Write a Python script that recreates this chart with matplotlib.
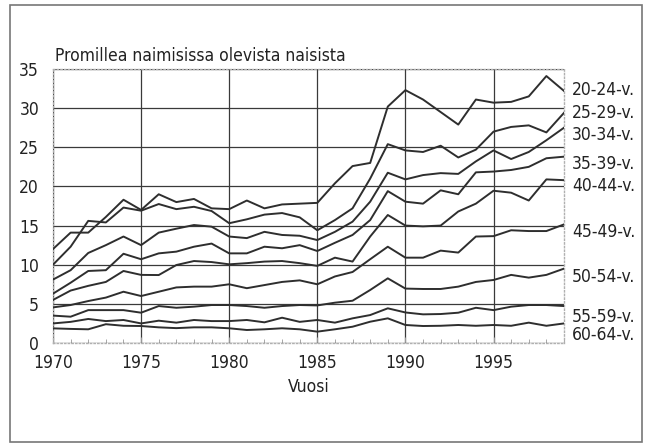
import matplotlib
matplotlib.use("Agg")
import matplotlib.pyplot as plt
from matplotlib.ticker import MultipleLocator
import matplotlib.transforms as mtransforms

plt.rcParams['font.family'] = ['DejaVu Sans']
plt.rcParams['font.stretch'] = 'condensed'

years = list(range(1970, 2000))

age_20_24 = [12.0, 14.1, 14.1, 16.1, 18.3, 17.0, 19.0, 18.0, 18.4, 17.2, 17.1,
             18.2, 17.2, 17.7, 17.8, 17.9, 20.4, 22.6, 23.0, 30.2, 32.3,
             31.1, 29.5, 27.9, 31.1, 30.7, 30.8, 31.5, 34.1, 32.2]
age_25_29 = [10.0, 12.3, 15.6, 15.4, 17.3, 16.9, 17.75, 17.1, 17.4, 16.86, 15.3,
             15.8, 16.4, 16.6, 16.05, 14.4, 15.7, 17.2, 21.0, 25.4, 24.6,
             24.4, 25.2, 23.7, 24.7, 27.0, 27.6, 27.8, 26.9, 29.4]
age_30_34 = [8.1, 9.3, 11.5, 12.5, 13.6, 12.5, 14.1, 14.6, 15.07, 14.86, 13.6,
             13.4, 14.2, 13.8, 13.7, 13.15, 14.2, 15.5, 18.05, 21.75, 20.9,
             21.45, 21.7, 21.6, 23.2, 24.6, 23.5, 24.4, 25.9, 27.5]
age_35_39 = [6.3, 7.7, 9.2, 9.3, 11.4, 10.7, 11.45, 11.67, 12.3, 12.7, 11.45,
             11.45, 12.3, 12.1, 12.5, 11.75, 12.8, 13.8, 15.7, 19.4, 18.05,
             17.8, 19.5, 19.0, 21.8, 21.9, 22.1, 22.5, 23.6, 23.8]
age_40_44 = [5.5, 6.7, 7.3, 7.8, 9.2, 8.7, 8.68, 9.96, 10.47, 10.34, 10.05,
             10.2, 10.4, 10.47, 10.2, 9.85, 10.9, 10.4, 13.6, 16.35, 15.0,
             14.9, 15.0, 16.8, 17.8, 19.45, 19.2, 18.2, 20.9, 20.8]
age_45_49 = [4.55, 4.85, 5.36, 5.8, 6.55, 6.0, 6.55, 7.1, 7.2, 7.2, 7.5,
             7.0, 7.4, 7.8, 8.0, 7.5, 8.5, 9.07, 10.7, 12.3, 10.9,
             10.9, 11.8, 11.55, 13.6, 13.65, 14.4, 14.3, 14.3, 15.15]
age_50_54 = [3.5, 3.36, 4.2, 4.2, 4.2, 3.87, 4.72, 4.5, 4.64, 4.85, 4.85,
             4.72, 4.5, 4.72, 4.85, 4.8, 5.15, 5.4, 6.77, 8.26, 6.95,
             6.9, 6.9, 7.2, 7.8, 8.05, 8.7, 8.35, 8.7, 9.5]
age_55_59 = [2.5, 2.7, 3.07, 2.8, 2.94, 2.5, 2.85, 2.6, 2.94, 2.8, 2.8,
             2.94, 2.64, 3.23, 2.7, 2.94, 2.6, 3.15, 3.57, 4.43, 3.9,
             3.66, 3.7, 3.87, 4.5, 4.2, 4.64, 4.85, 4.85, 4.72]
age_60_64 = [1.87, 1.8, 1.75, 2.4, 2.2, 2.17, 2.0, 1.9, 2.0, 2.0, 1.88,
             1.66, 1.75, 1.88, 1.75, 1.45, 1.75, 2.08, 2.72, 3.15, 2.3,
             2.17, 2.2, 2.3, 2.2, 2.3, 2.2, 2.6, 2.2, 2.5]

series = [age_20_24, age_25_29, age_30_34, age_35_39, age_40_44,
          age_45_49, age_50_54, age_55_59, age_60_64]
labels = ['20-24-v.', '25-29-v.', '30-34-v.', '35-39-v.', '40-44-v.',
          '45-49-v.', '50-54-v.', '55-59-v.', '60-64-v.']
label_y = [32.3, 29.4, 26.6, 22.9, 20.0, 14.2, 8.4, 3.3, 1.0]

title = 'Promillea naimisissa olevista naisista'
xlabel = 'Vuosi'

fig = plt.figure(figsize=(6.49, 4.47), dpi=100)
fig.patches.append(plt.Rectangle((10/649, 1-442/447), 632/649, 437/447,
                                 transform=fig.transFigure, fill=False,
                                 edgecolor='#777777', linewidth=1.2))
ax = fig.add_axes([53/649, 1-343/447, 511/649, 274/447])

for vals in series:
    ax.plot(years, vals, color='#2e2e2e', linewidth=1.4, zorder=3)

ax.set_xlim(1970, 1999)
ax.set_ylim(0, 35)
ax.xaxis.set_major_locator(MultipleLocator(5))
ax.xaxis.set_minor_locator(MultipleLocator(1))
ax.yaxis.set_major_locator(MultipleLocator(5))
ax.grid(True, which='major', color='#3a3a3a', linewidth=0.9)
ax.set_axisbelow(True)

for sp in ax.spines.values():
    sp.set_color('#b0b0b0')
    sp.set_linestyle(':')
    sp.set_linewidth(1.0)

txtc = '#222222'
fs = 12.5
ax.tick_params(axis='x', which='both', direction='in', color='#999999',
               labelsize=fs, pad=8, labelcolor=txtc)
ax.tick_params(axis='x', which='major', length=4)
ax.tick_params(axis='x', which='minor', length=3)
ax.tick_params(axis='y', which='both', length=0, labelsize=fs, pad=10,
               labelcolor=txtc)

ax.text(0.003, 1.015, title, transform=ax.transAxes, fontsize=fs,
        ha='left', va='bottom', color=txtc)
ax.set_xlabel(xlabel, fontsize=fs, labelpad=4, color=txtc)

trans = mtransforms.blended_transform_factory(ax.transAxes, ax.transData)
for lab, yv in zip(labels, label_y):
    ax.text(1.016, yv, lab, transform=trans, fontsize=fs, ha='left',
            va='center', color=txtc)

fig.savefig('out.png', dpi=100)
